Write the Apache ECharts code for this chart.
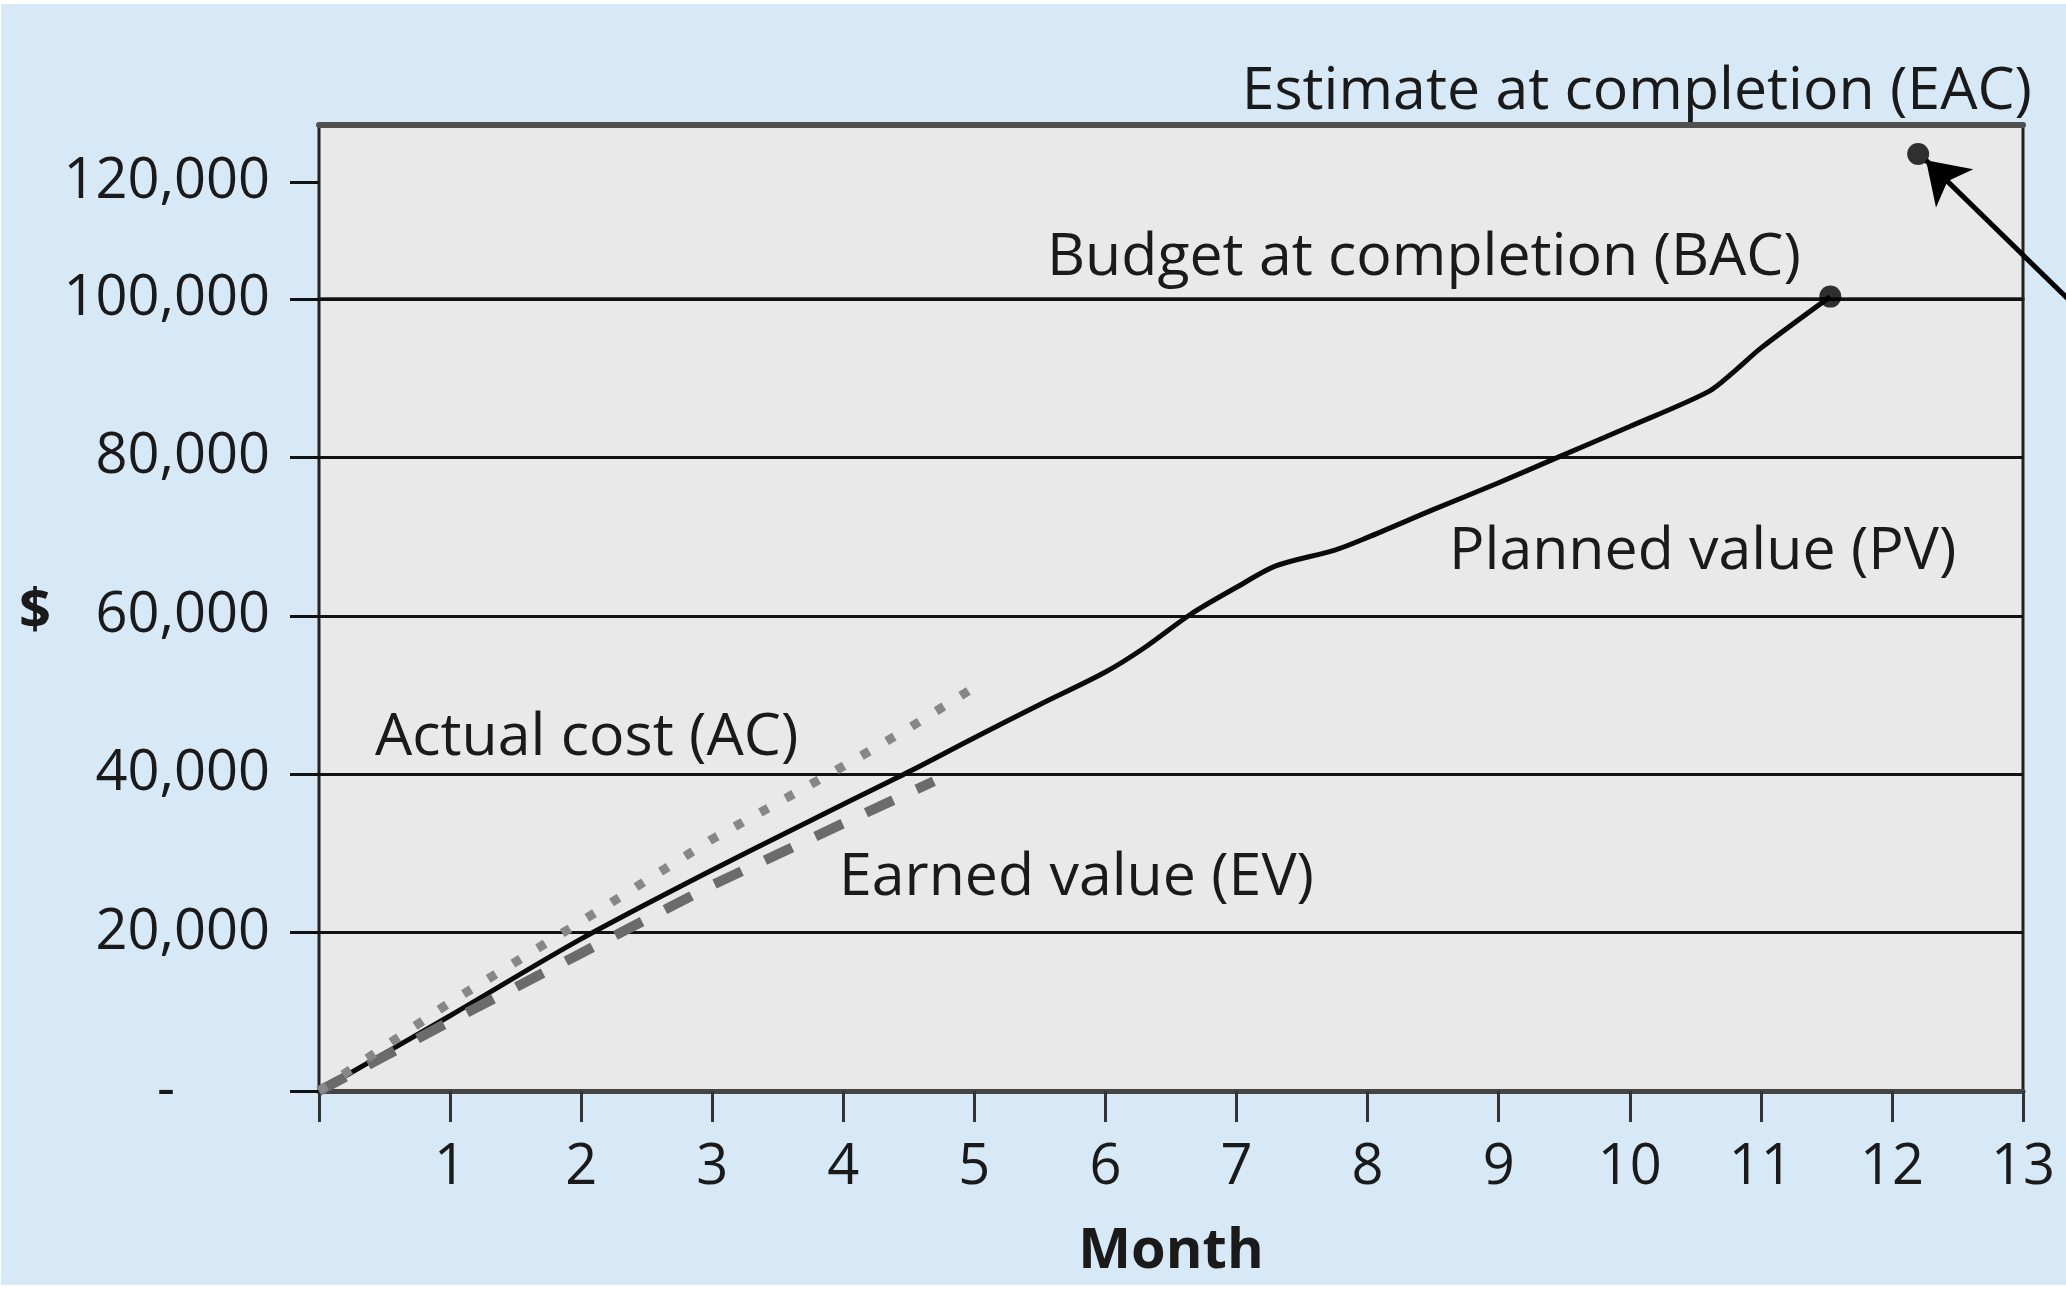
<!DOCTYPE html>
<html>
<head>
<meta charset="utf-8">
<script src="https://cdn.jsdelivr.net/npm/echarts@6/dist/echarts.min.js"></script>
<style>
html,body{margin:0;padding:0;background:#ffffff;}
#c{width:2066px;height:1296px;}
</style>
</head>
<body>
<div id="c"></div>
<script>
// ---------------- data ----------------
const monthLabels = ['', '1', '2', '3', '4', '5', '6', '7', '8', '9', '10', '11', '12', '13'];
const yTickValues = [0, 20000, 40000, 60000, 80000, 100000, 120000];
const yTickLabels = ['-', '20,000', '40,000', '60,000', '80,000', '100,000', '120,000'];

const pvMonths = [0, 1, 2, 3, 4, 4.5, 5, 5.5, 6, 6.3, 6.65, 7, 7.3, 7.75, 8, 8.5, 9, 9.45, 10, 10.6, 10.8, 11, 11.53];
const pvValues = [0, 9500, 19200, 27900, 36200, 40300, 44600, 48800, 52900, 56000, 60200, 63600, 66300, 68300, 69900, 73400, 76800, 80000, 83900, 88300, 90900, 93800, 100300];

const acMonths = [0, 1, 2, 3, 4, 4.5, 5.06];
const acValues = [0, 11200, 21400, 31800, 41000, 45800, 51600];

const evMonths = [0, 1, 2, 3, 4, 4.69];
const evValues = [0, 8800, 17400, 26000, 33800, 39100];

const eacPoint = [12.2, 124800];
const eacArrow = [[13.6, 94400], [12.26, 123700]];

// ---------------- chart ----------------
const zip = (a, b) => a.map((v, i) => [v, b[i]]);
const bacPoint = [pvMonths[pvMonths.length - 1], pvValues[pvValues.length - 1]];
const labelFor = v => { const i = yTickValues.indexOf(v); return i < 0 ? '' : yTickLabels[i]; };

const FONT = "'Open Sans', 'Noto Sans', sans-serif";
const INK = '#1a1a1a';
const L = 319, R = 43, TOP = 125, MID = 299, BOT = 205;
const NOTE = 59;

const chart = echarts.init(document.getElementById('c'), null, {renderer: 'canvas', width: 2066, height: 1296});

const gridLine = {show: true, lineStyle: {color: '#111111', width: 3}};
const yTick = {show: true, length: 29, lineStyle: {color: '#111111', width: 3}};

const option = {
  animation: false,
  backgroundColor: '#ffffff',
  textStyle: {fontFamily: FONT},
  grid: [
    {left: L, right: R, top: TOP, height: MID - TOP, show: true, backgroundColor: '#e9e9e9', borderColor: '#222222', borderWidth: 3},
    {left: L, right: R, top: MID, bottom: BOT, show: true, backgroundColor: '#e9e9e9', borderColor: '#222222', borderWidth: 3}
  ],
  xAxis: [
    {
      gridIndex: 0, type: 'value', position: 'top', min: 0, max: 13, interval: 1,
      axisLine: {show: true, onZero: false, lineStyle: {color: '#505050', width: 6}},
      axisTick: {show: false}, axisLabel: {show: false}, splitLine: {show: false}
    },
    {
      gridIndex: 1, type: 'value', position: 'bottom', min: 0, max: 13, interval: 1,
      axisLine: {show: true, onZero: false, lineStyle: {color: '#454545', width: 5}},
      axisTick: {show: true, length: 31, lineStyle: {color: '#333333', width: 3}},
      axisLabel: {fontSize: 56, color: INK, fontFamily: FONT, margin: 49,
                  formatter: v => monthLabels[Math.round(v)] ?? ''},
      splitLine: {show: false},
      name: 'Month', nameLocation: 'middle', nameGap: 133,
      nameTextStyle: {fontSize: 56, fontWeight: 'bold', color: INK, fontFamily: FONT}
    }
  ],
  yAxis: [
    {
      gridIndex: 0, type: 'value', min: 100000, max: 129744, interval: 20000,
      axisLine: {show: false},
      axisTick: Object.assign({customValues: [120000]}, yTick),
      axisLabel: {fontSize: 56, color: INK, fontFamily: FONT, margin: 49,
                  showMinLabel: false, showMaxLabel: false, customValues: [120000],
                  formatter: labelFor},
      splitLine: Object.assign({showMinLine: false, showMaxLine: false}, gridLine)
    },
    {
      gridIndex: 1, type: 'value', min: 0, max: 100000, interval: 20000,
      axisLine: {show: false},
      axisTick: yTick,
      axisLabel: {fontSize: 56, color: INK, fontFamily: FONT, margin: 49,
                  formatter: v => v === 0 ? '{z|' + labelFor(v) + '}' : labelFor(v),
                  rich: {z: {fontSize: 56, color: INK, fontFamily: FONT, padding: [0, 95, 0, 0]}}},
      splitLine: gridLine
    }
  ],
  series: [
    {
      name: 'Planned value (PV)', type: 'line', xAxisIndex: 1, yAxisIndex: 1,
      data: zip(pvMonths, pvValues), smooth: 0.3, symbol: 'none', showSymbol: false, clip: false,
      lineStyle: {color: '#0a0a0a', width: 5}, z: 3, silent: true
    },
    {
      name: 'Earned value (EV)', type: 'line', xAxisIndex: 1, yAxisIndex: 1,
      data: zip(evMonths, evValues), symbol: 'none', showSymbol: false, clip: false,
      lineStyle: {color: '#6b6b6b', width: 10, type: [30, 25.8], cap: 'butt'}, z: 4, silent: true
    },
    {
      name: 'Actual cost (AC)', type: 'line', xAxisIndex: 1, yAxisIndex: 1,
      data: zip(acMonths, acValues), symbol: 'none', showSymbol: false, clip: false,
      lineStyle: {color: '#878787', width: 9, type: [9, 20], cap: 'butt'}, z: 5, silent: true
    },
    {
      name: 'BAC', type: 'scatter', xAxisIndex: 1, yAxisIndex: 1, data: [bacPoint],
      symbol: 'circle', symbolSize: 22, itemStyle: {color: '#000000'}, clip: false, z: 6, silent: true
    },
    {
      name: 'EAC', type: 'scatter', xAxisIndex: 0, yAxisIndex: 0, data: [eacPoint],
      symbol: 'circle', symbolSize: 22, itemStyle: {color: '#000000'}, clip: false, z: 6, silent: true
    },
    {
      name: 'EAC arrow', type: 'lines', coordinateSystem: 'cartesian2d', xAxisIndex: 0, yAxisIndex: 0,
      data: [{coords: eacArrow}], symbol: ['none', 'arrow'], symbolSize: [1, 40],
      lineStyle: {color: '#000000', width: 5, opacity: 1, curveness: 0}, clip: false, z: 6, silent: true
    }
  ],
  graphic: [
    {type: 'rect', z: -10, silent: true, shape: {x: 1, y: 4, width: 2065, height: 1281}, style: {fill: '#d7e8f7'}},
    {type: 'text', x: 2032, y: 92, silent: true,
     style: {text: 'Estimate at completion (EAC)', fontSize: NOTE, fontFamily: FONT, fill: INK, align: 'right', verticalAlign: 'middle'}},
    {type: 'text', x: 1047, y: 258, silent: true,
     style: {text: 'Budget at completion (BAC)', fontSize: NOTE, fontFamily: FONT, fill: INK, align: 'left', verticalAlign: 'middle'}},
    {type: 'text', x: 1449, y: 552, silent: true,
     style: {text: 'Planned value (PV)', fontSize: NOTE, fontFamily: FONT, fill: INK, align: 'left', verticalAlign: 'middle'}},
    {type: 'text', x: 375, y: 738, silent: true,
     style: {text: 'Actual cost (AC)', fontSize: NOTE, fontFamily: FONT, fill: INK, align: 'left', verticalAlign: 'middle'}},
    {type: 'text', x: 839, y: 878, silent: true,
     style: {text: 'Earned value (EV)', fontSize: NOTE, fontFamily: FONT, fill: INK, align: 'left', verticalAlign: 'middle'}},
    {type: 'text', x: 35, y: 612, silent: true,
     style: {text: '$', fontSize: 56, fontWeight: 'bold', fontFamily: FONT, fill: INK, align: 'center', verticalAlign: 'middle'}}
  ]
};

chart.setOption(option);
</script>
</body>
</html>
